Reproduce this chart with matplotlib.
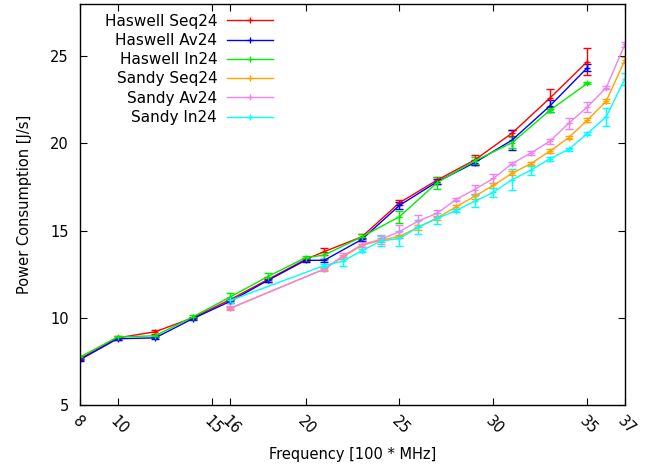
import matplotlib
matplotlib.use("Agg")
import matplotlib.pyplot as plt
from matplotlib.lines import Line2D

# データ
hsw_freq = [8, 10, 12, 14, 16, 18, 20, 21, 23, 25, 27, 29, 31, 33, 35]
hsw_seq = [7.65, 8.85, 9.2, 10.0, 11.05, 12.2, 13.35, 13.8, 14.65, 16.6, 17.9, 19.05, 20.6, 22.6, 24.7]
hsw_seq_err = [0.05, 0.1, 0.1, 0.05, 0.1, 0.15, 0.1, 0.2, 0.15, 0.15, 0.2, 0.3, 0.15, 0.5, 0.75]
hsw_av = [7.6, 8.8, 8.85, 9.95, 10.95, 12.15, 13.3, 13.3, 14.5, 16.45, 17.8, 18.9, 20.2, 22.15, 24.35]
hsw_av_err = [0.05, 0.05, 0.05, 0.05, 0.1, 0.1, 0.1, 0.1, 0.1, 0.2, 0.15, 0.15, 0.55, 0.35, 0.2]
hsw_in = [7.75, 8.9, 8.97, 10.05, 11.2, 12.37, 13.45, 13.6, 14.65, 15.8, 17.75, 19.0, 20.05, 21.9, 23.45]
hsw_in_err = [0.05, 0.05, 0.05, 0.1, 0.2, 0.2, 0.1, 0.2, 0.15, 0.35, 0.35, 0.2, 0.3, 0.1, 0.05]

snb_freq = [16, 21, 22, 23, 24, 25, 26, 27, 28, 29, 30, 31, 32, 33, 34, 35, 36, 37]
snb_seq = [10.55, 12.8, 13.5, 14.15, 14.45, 14.67, 15.2, 15.73, 16.36, 16.97, 17.6, 18.3, 18.85, 19.56, 20.33, 21.34, 22.43, 24.79]
snb_seq_err = [0.05, 0.05, 0.1, 0.1, 0.1, 0.1, 0.15, 0.1, 0.1, 0.15, 0.15, 0.1, 0.1, 0.1, 0.1, 0.1, 0.1, 0.15]
snb_av = [10.55, 12.8, 13.55, 14.2, 14.5, 14.95, 15.55, 16.0, 16.78, 17.36, 18.0, 18.85, 19.46, 20.13, 21.15, 22.1, 23.2, 25.69]
snb_av_err = [0.1, 0.1, 0.15, 0.15, 0.25, 0.35, 0.35, 0.2, 0.1, 0.25, 0.25, 0.1, 0.1, 0.15, 0.3, 0.3, 0.1, 0.15]
snb_in = [11.0, 13.0, 13.25, 13.85, 14.4, 14.55, 15.2, 15.7, 16.15, 16.68, 17.2, 17.93, 18.47, 19.12, 19.66, 20.57, 21.53, 23.72]
snb_in_err = [0.15, 0.1, 0.25, 0.1, 0.3, 0.45, 0.4, 0.3, 0.1, 0.35, 0.25, 0.6, 0.25, 0.1, 0.1, 0.1, 0.5, 0.35]

xticks = [8, 10, 15, 16, 20, 25, 30, 35, 37]
yticks = [5, 10, 15, 20, 25]

series = [
    ("Haswell Seq24", hsw_freq, hsw_seq, hsw_seq_err, "#ff0000"),
    ("Haswell Av24", hsw_freq, hsw_av, hsw_av_err, "#0000ff"),
    ("Haswell In24", hsw_freq, hsw_in, hsw_in_err, "#00ee00"),
    ("Sandy Seq24", snb_freq, snb_seq, snb_seq_err, "#ffa500"),
    ("Sandy Av24", snb_freq, snb_av, snb_av_err, "#ee82ee"),
    ("Sandy In24", snb_freq, snb_in, snb_in_err, "#00ffff"),
]

plt.rcParams['font.family'] = ['DejaVu Sans']
plt.rcParams['xtick.direction'] = 'in'
plt.rcParams['ytick.direction'] = 'in'

fig = plt.figure(figsize=(6.57, 4.68), dpi=100)
ax = fig.add_axes([80/657, 1 - 405/468, 545/657, 401/468])

handles = []
for label, x, y, err, c in series:
    ax.errorbar(x, y, yerr=err, color=c, linewidth=1, marker='+', markersize=4,
                elinewidth=1, capsize=3, capthick=1)
    handles.append(Line2D([], [], color=c, linewidth=1, marker='+', markersize=4, label=label))

ax.set_xlim(8, 37)
ax.set_ylim(5, 28)
ax.set_xticks(xticks)
ax.set_yticks(yticks)
ax.set_xticklabels([str(t) for t in xticks], rotation=-45, ha='left', va='top',
                   rotation_mode='anchor', fontsize=10.5)
ax.tick_params(axis='y', labelsize=10.5, pad=8)
ax.tick_params(axis='x', pad=6)
ax.tick_params(top=True, right=True, length=5, width=0.8)
for s in ax.spines.values():
    s.set_linewidth(1)

ax.set_xlabel("Frequency [100 * MHz]", fontsize=10.5, labelpad=7)
ax.set_ylabel("Power Consumption [J/s]", fontsize=10.5, labelpad=13)

# 凡例（テキスト右寄せ、線は右側）
leg = ax.legend(handles=handles, loc='upper right', bbox_to_anchor=(0.354, 0.976),
                frameon=False, markerfirst=False, fontsize=11, handlelength=3.0,
                handletextpad=0.65, labelspacing=0.28, borderpad=0, borderaxespad=0)

fig.savefig("out.png", dpi=100)
